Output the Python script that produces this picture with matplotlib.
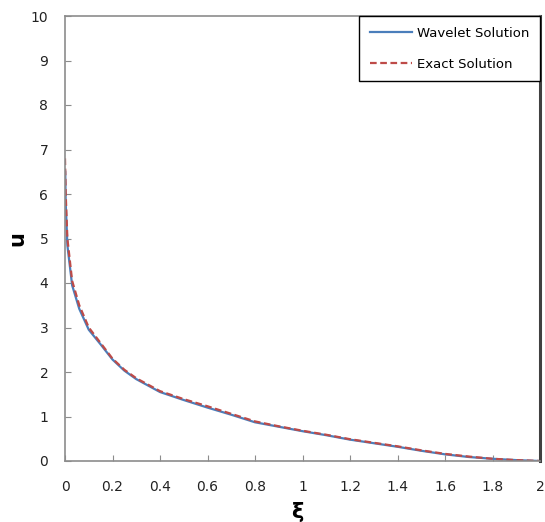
import numpy as np
import matplotlib.pyplot as plt

# Similarity variable and the two solution profiles
xi_exact = [0.0, 0.003, 0.01, 0.03, 0.06, 0.1, 0.15, 0.2, 0.25, 0.3, 0.4, 0.5,
            0.6, 0.7, 0.8, 0.9, 1.0, 1.1, 1.2, 1.3, 1.4, 1.5, 1.6, 1.7, 1.8,
            1.9, 2.0]
u_exact = [6.8, 6.0, 5.0, 4.05, 3.5, 3.0, 2.65, 2.3, 2.05, 1.86, 1.57, 1.39,
           1.23, 1.06, 0.89, 0.78, 0.68, 0.59, 0.49, 0.41, 0.33, 0.24, 0.16,
           0.10, 0.05, 0.02, 0.0]

xi_wave = [0.001, 0.003, 0.01, 0.03, 0.06, 0.1, 0.15, 0.2, 0.25, 0.3, 0.4, 0.5,
           0.6, 0.7, 0.8, 0.9, 1.0, 1.1, 1.2, 1.3, 1.4, 1.5, 1.6, 1.7, 1.8,
           1.9, 2.0]
u_wave = [6.5, 5.8, 4.85, 3.95, 3.42, 2.95, 2.62, 2.28, 2.03, 1.84, 1.55, 1.37,
          1.2, 1.04, 0.87, 0.77, 0.67, 0.58, 0.48, 0.40, 0.32, 0.23, 0.15,
          0.09, 0.05, 0.02, 0.0]

xtick_labels = ["0", "0.2", "0.4", "0.6", "0.8", "1", "1.2", "1.4",
                "1.6", "1.8", "2"]

fig = plt.figure(figsize=(5.45, 5.22), dpi=100)
ax = fig.add_axes([65 / 545, 1 - 461 / 522, 475 / 545, 445 / 522])

ax.plot(xi_wave, u_wave, color="#4a7ebb", lw=1.6, label="Wavelet Solution")
ax.plot(xi_exact, u_exact, color="#be4b48", lw=1.6, ls=(0, (3, 1.6)),
        label="Exact Solution")

ax.set_xlim(0, 2)
ax.set_ylim(0, 10)
ax.set_xticks(np.arange(0, 2.01, 0.2))
ax.set_xticklabels(xtick_labels)
ax.set_yticks(range(0, 11))

# gray frame, darker right edge
for side in ["left", "bottom", "top"]:
    ax.spines[side].set_color("#8c8c8c")
    ax.spines[side].set_linewidth(1.2)
ax.spines["right"].set_color("#404040")
ax.spines["right"].set_linewidth(2.2)

ax.tick_params(axis="both", direction="in", length=4, color="#8c8c8c",
               labelsize=10, labelcolor="#222222")
ax.tick_params(axis="x", pad=14, top=False)
ax.tick_params(axis="y", pad=12, right=False)

ax.set_xlabel("ξ", fontsize=15, fontweight="bold")
ax.set_ylabel("u", fontsize=15, fontweight="bold")
ax.xaxis.set_label_coords(0.49, -0.092)
ax.yaxis.set_label_coords(-0.080, 0.5)

leg = ax.legend(loc="upper right", bbox_to_anchor=(1.0, 1.0),
                borderaxespad=0, fancybox=False, framealpha=1,
                edgecolor="black", fontsize=9.5, handlelength=3.2,
                handletextpad=0.4, labelspacing=1.36, borderpad=0.8)
leg.get_frame().set_linewidth(1.0)

fig.savefig("out.png", dpi=100)
